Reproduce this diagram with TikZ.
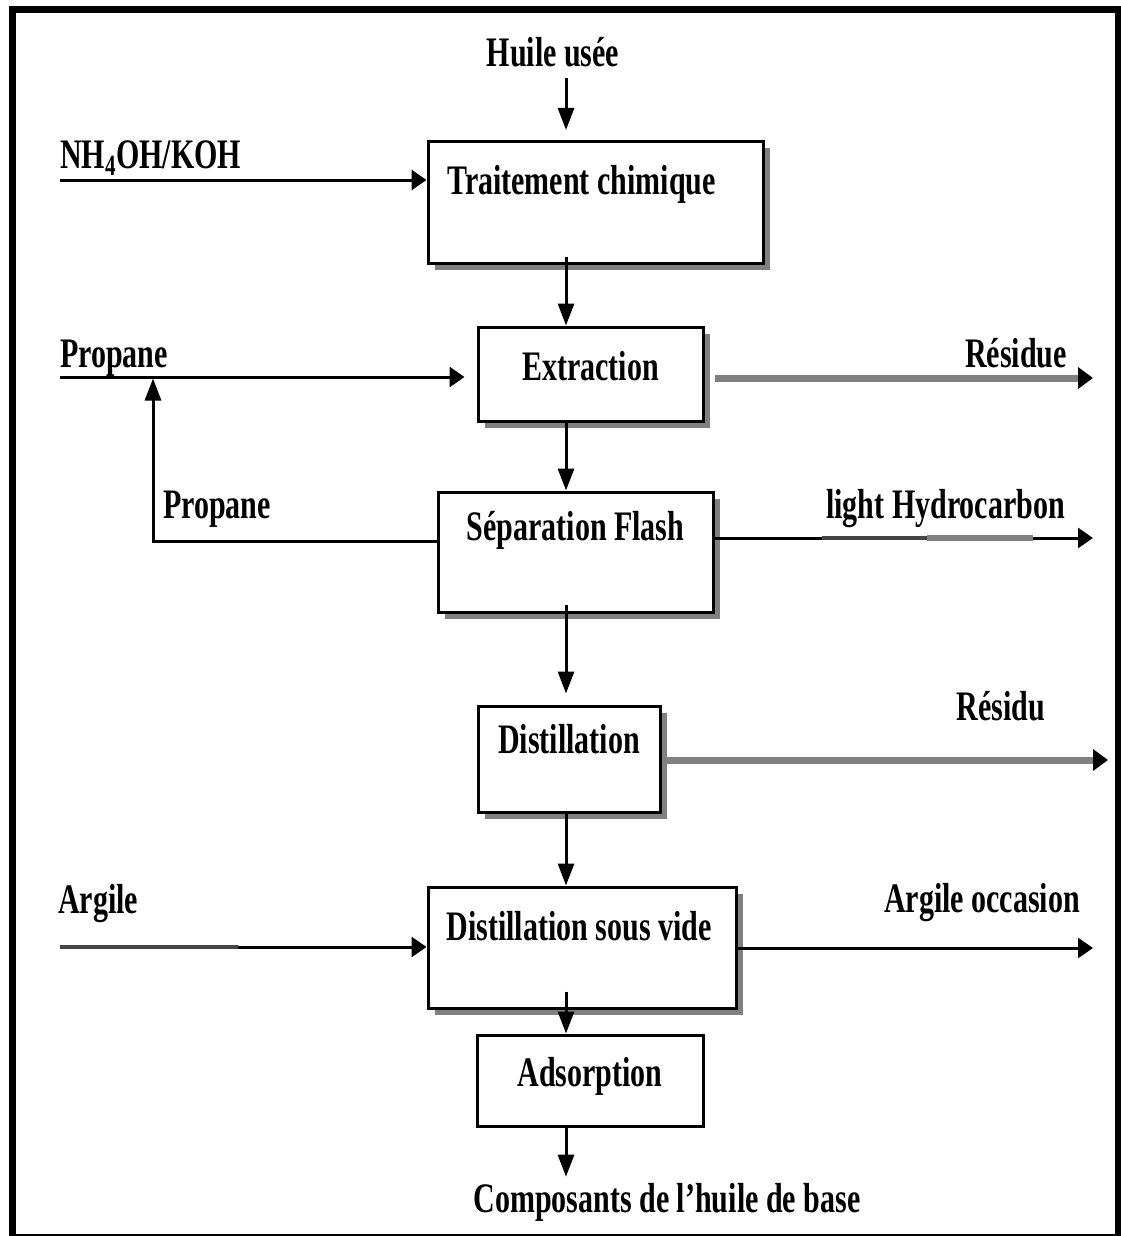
\documentclass[tikz,border=0pt]{standalone}
\usepackage{fontspec}
\usepackage{graphicx}
\setmainfont{Liberation Serif}
\usetikzlibrary{arrows.meta,shadows}

\definecolor{shadowgrey}{HTML}{808080}
\definecolor{midgrey}{HTML}{808080}
\definecolor{darkgrey}{HTML}{454545}

% bold serif, stretched vertically
\newcommand\lblfont{\fontsize{30}{36}\selectfont\bfseries}
\newcommand\stretchtxt[1]{\scalebox{1}[1.4]{#1}}

\tikzset{
  box/.style={draw, line width=3pt, fill=white, inner sep=0pt,
              anchor=north west, font=\lblfont},
  shd/.style={drop shadow={shadow xshift=6.5pt, shadow yshift=-6.5pt,
              fill=shadowgrey, opacity=1}},
  lbl/.style={inner sep=0pt, font=\lblfont},
  arrv/.style={line width=3pt, -{Triangle[length=22pt,width=16pt]}},
  arrh/.style={line width=3pt, -{Triangle[length=15pt,width=20pt]}},
  waste/.style={line width=7pt, draw=midgrey,
                -{Triangle[length=15pt,width=21pt,color=black]}},
}

\begin{document}
\begin{tikzpicture}[x=1pt,y=-1pt]
\useasboundingbox (0,0) rectangle (1120,1236);

% outer frame
\draw[line width=7pt] (12.5,9.5) rectangle (1118.5,1237);

% process steps
\node[box,shd,minimum width=335pt,text height=53.5pt,text depth=68.5pt]
  (trait) at (426.5,139.5) {\stretchtxt{Traitement chimique}\hspace*{28pt}};
\node[box,shd,minimum width=225pt,text height=53.5pt,text depth=40.5pt]
  (extr) at (476.5,325.5) {\stretchtxt{Extraction}};
\node[box,shd,minimum width=275pt,text height=48pt,text depth=72pt]
  (sep) at (436.5,490.5) {\stretchtxt{Séparation Flash}};
\node[box,shd,minimum width=182pt,text height=47.5pt,text depth=58.5pt]
  (dist) at (476.5,704.5) {\stretchtxt{Distillation}};
\node[box,shd,minimum width=308pt,text height=53.5pt,text depth=67.5pt]
  (dsv) at (426.5,885.5) {\stretchtxt{Distillation sous vide}\hspace*{6pt}};
\node[box,minimum width=226pt,text height=51.5pt,text depth=39.5pt]
  (ads) at (475.5,1033.5) {\stretchtxt{Adsorption}};

% stream labels
\node[lbl,anchor=base] (hu) at (553,67) {\stretchtxt{Huile usée}};
\node[lbl,anchor=base west] (nh) at (60,168) {\stretchtxt{NH\textsubscript{4}OH/KOH}};
\node[lbl,anchor=base west] (pr1) at (60,367) {\stretchtxt{Propane}};
\node[lbl,anchor=base west] (pr2) at (163,518) {\stretchtxt{Propane}};
\node[lbl,anchor=base east] (res1) at (1067,367) {\stretchtxt{Résidue}};
\node[lbl,anchor=base east] (lh) at (1065,518) {\stretchtxt{light Hydrocarbon}};
\node[lbl,anchor=base east] (res2) at (1045,720) {\stretchtxt{Résidu}};
\node[lbl,anchor=base west] (arg) at (58,913) {\stretchtxt{Argile}};
\node[lbl,anchor=base east] (ao) at (1080,912) {\stretchtxt{Argile occasion}};
\node[lbl,anchor=base] (comp) at (667,1212) {\stretchtxt{Composants de l'huile de base}};

% stream end points
\coordinate (sp) at (566,0);
\coordinate (inHu) at (566,78);
\coordinate (inNH) at (60,180);
\coordinate (inPr) at (60,377);
\coordinate (rc) at (153,541);
\coordinate (outR1) at (1093,378);
\coordinate (outLH) at (1093,538);
\coordinate (lhA) at (822,538);
\coordinate (lhB) at (927,538);
\coordinate (lhC) at (1033,538);
\coordinate (outR2) at (1108,760);
\coordinate (inAr) at (60,947);
\coordinate (argB) at (238,947);
\coordinate (outAO) at (1093,948);

% main line
\draw[arrv,shorten >=9.5pt] (inHu) -- (inHu |- trait.north);
\draw[arrv] ([yshift=8pt]sp |- trait.south) -- (sp |- extr.north);
\draw[arrv] (sp |- extr.south) -- (sp |- sep.north);
\draw[arrv,shorten >=11pt] ([yshift=9pt]sp |- sep.south) -- (sp |- dist.north);
\draw[arrv] (sp |- dist.south) -- (sp |- dsv.north);
\draw[arrv] ([yshift=18pt]sp |- dsv.south) -- (sp |- ads.north);
\draw[arrv,shorten >=6pt] (sp |- ads.south) -- (sp |- comp.north);

% feeds
\draw[arrh] (inNH) -- (inNH -| trait.west);
\draw[arrh,shorten >=12pt] (inPr) -- (inPr -| extr.west);
\draw[arrv,shorten >=1.5pt] (rc -| sep.west) -- (rc) -- (rc |- inPr);
\draw[arrh] (inAr) -- (inAr -| dsv.west);
\draw[line width=4pt,draw=darkgrey] (inAr) -- (argB);

% outlets
\draw[waste] ([xshift=10pt]outR1 -| extr.east) -- (outR1);
\draw[arrh] (outLH -| sep.east) -- (outLH);
\draw[line width=4pt,draw=darkgrey] (lhA) -- (lhB);
\draw[line width=6pt,draw=midgrey] (lhB) -- (lhC);
\draw[waste] (outR2 -| dist.east) -- (outR2);
\draw[arrh] (outAO -| dsv.east) -- (outAO);
\end{tikzpicture}
\end{document}
